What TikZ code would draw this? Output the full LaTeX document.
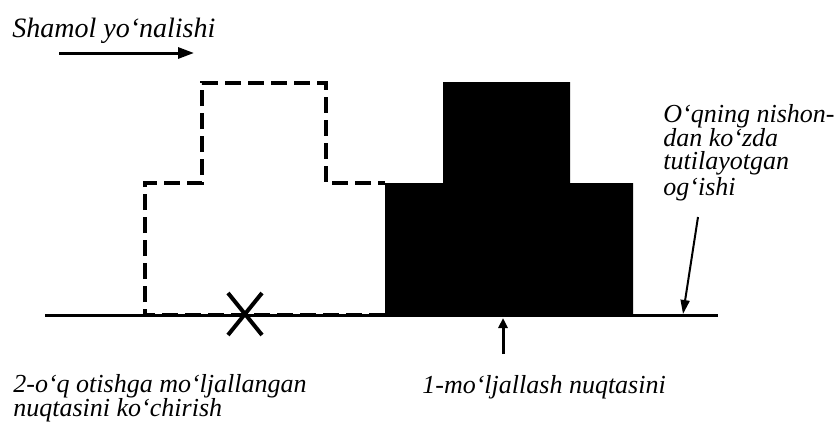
\documentclass[tikz,border=0pt]{standalone}
\usepackage{fontspec}
\setmainfont{Liberation Serif}
\usetikzlibrary{arrows.meta,calc}
\begin{document}
\begin{tikzpicture}[x=0.5pt, y=-0.5pt,
    lbl/.style={font=\fontsize{13}{11.8}\selectfont\itshape, inner sep=0pt, align=left},
    arr/.style={-{Triangle[length=8pt, width=5.5pt]}, line width=1.5pt},
    ground/.style={line width=1.5pt},
    shifted/.style={line width=2pt, dash pattern=on 8pt off 3.5pt},
    cross/.style={line width=2pt}
]
\useasboundingbox (0,0) rectangle (840,423);

% Ground line
\draw[ground] (45,315) coordinate (g0) -- (718,315) coordinate (g1);

% Shifted aiming point (dashed)
\draw[shifted] (385,315) -- (145,315) -- (145,183) -- (202,183) -- (202,83)
    -- (326,83) -- (326,183) -- (385,183);

% First aiming point (solid)
\fill (385,315) -- (385,183) -- (443,183) -- (443,82) -- (570,82) -- (570,183)
    -- (633,183) -- (633,315) -- cycle;

% Cross
\coordinate (x0) at (245,314);
\draw[cross] ($(x0)+(-17,-21)$) -- ($(x0)+(17,21)$);
\draw[cross] ($(x0)+(-17,21)$) -- ($(x0)+(17,-21)$);

% Wind direction
\node[lbl, font=\fontsize{14}{16}\selectfont\itshape, anchor=base west] (wind) at (12,37) {Shamol yo‘nalishi};
\coordinate (w0) at (59,53);
\coordinate (w1) at (194,53);
\draw[arr] (w0) -- (w1);

% Expected deviation
\node[lbl, anchor=north west] (dev) at (663,104) {O‘qning nishon-\\dan ko‘zda\\tutilayotgan\\og‘ishi};
\coordinate (d0) at (698,217);
\coordinate (d1) at (683,314);
\draw[arr, line width=1pt, -{Triangle[length=7pt, width=4.5pt]}] (d0) -- (d1);

% Labels below
\coordinate (p0) at (503,354);
\coordinate (p1) at (503,318);
\draw[arr, -{Triangle[length=5pt, width=4.5pt]}] (p0) -- (p1);
\node[lbl, anchor=base west] (first) at (422,393) {1-mo‘ljallash nuqtasini};
\node[lbl, anchor=north west] (second) at (13,374) {2-o‘q otishga mo‘ljallangan\\nuqtasini ko‘chirish};
\end{tikzpicture}
\end{document}
